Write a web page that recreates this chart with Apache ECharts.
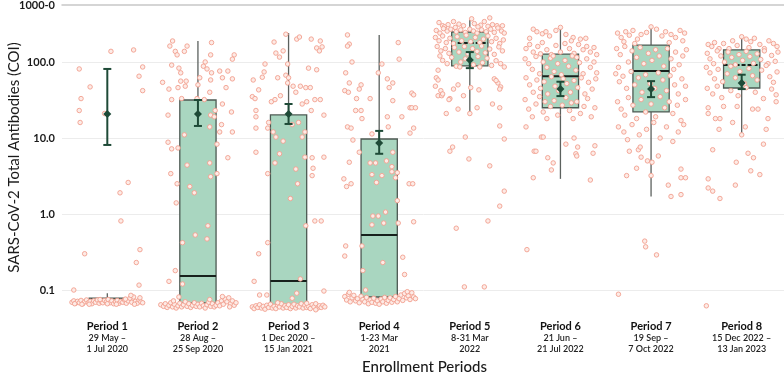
<!DOCTYPE html>
<html>
<head>
<meta charset="utf-8">
<script src="https://cdn.jsdelivr.net/npm/echarts@6/dist/echarts.min.js"></script>
<style>
  html, body { margin: 0; padding: 0; background: #fff; }
  #chart { width: 784px; height: 376px; }
</style>
</head>
<body>
<div id="chart"></div>
<script>
// periods and enrollment dates
const periods = ['Period 1', 'Period 2', 'Period 3', 'Period 4', 'Period 5', 'Period 6', 'Period 7', 'Period 8'];
const dateLines = [
  ['29 May –', '1 Jul 2020'],
  ['28 Aug –', '25 Sep 2020'],
  ['1 Dec 2020 –', '15 Jan 2021'],
  ['1-23 Mar', '2021'],
  ['8-31 Mar', '2022'],
  ['21 Jun –', '21 Jul 2022'],
  ['19 Sep –', '7 Oct 2022'],
  ['15 Dec 2022 –', '13 Jan 2023']
];

// box stats (COI)
const whiskerLow = [0.066, 0.062, 0.06, 0.068, 21, 2.9, 1.7, 10.6];
const q1 = [0.069, 0.0675, 0.062, 0.081, 89, 25, 22, 45.5];
const median = [0.072, 0.153, 0.131, 0.53, 178, 65, 76, 91];
const q3 = [0.078, 31.6, 20.1, 9.7, 248, 127, 167, 144];
const whiskerHigh = [0.091, 189, 240, 226, 357, 289, 289, 220];

// mean with 95% CI
const mean = [20.7, 20.7, 20.7, 8.6, 106, 44, 44, 53];
const meanLow = [8.1, 14.4, 15.3, 6.2, 83, 35.6, 34.5, 44];
const meanHigh = [81, 31.6, 28, 12.4, 135, 55, 56, 68];

// individual results: [jitter offset, COI]
const pts1 = [
  [0.04,138],[0.29,144],[-0.31,81],[0.39,86],[-0.19,47],[0.35,65],[-0.29,33],[0.39,42],[-0.31,23],[-0.03,21],[-0.30,16],
  [0.23,2.6],[0.14,1.9],[0.15,0.81],[-0.25,0.30],[0.36,0.34],[0.32,0.23],[0.35,0.116],[-0.37,0.10],
  [-0.39,0.069],[-0.37,0.072],[-0.35,0.067],[-0.33,0.071],[-0.31,0.068],[-0.29,0.073],[-0.27,0.066],[-0.25,0.070],[-0.23,0.074],
  [-0.21,0.068],[-0.19,0.071],[-0.17,0.066],[-0.15,0.072],[-0.13,0.069],[-0.11,0.074],[-0.09,0.067],[-0.07,0.071],[-0.05,0.068],
  [-0.03,0.073],[-0.01,0.070],[0.01,0.075],[0.03,0.068],[0.05,0.072],[0.07,0.066],[0.09,0.070],[0.11,0.073],[0.13,0.067],
  [0.15,0.071],[0.17,0.069],[0.19,0.074],[0.21,0.067],[0.23,0.072],[0.25,0.078],[0.27,0.069],[0.29,0.081],[0.31,0.071],
  [0.33,0.067],[0.35,0.074],[0.37,0.070],[0.39,0.068],[0.26,0.085],[-0.36,0.066],[-0.20,0.065],[0.10,0.065],[0.30,0.065],
  [0.20,0.076],[-0.08,0.075],[0.36,0.079],[-0.28,0.065],[0.00,0.066]
];
const pts2 = [
  [-0.28,189],[-0.31,162],[-0.12,162],[0.15,180],[-0.25,138],[-0.23,124],[-0.15,138],[0.14,124],[0.40,124],[0.38,109],
  [0.08,100],[-0.29,91],[-0.21,83],[0.06,88],[0.10,81],[-0.19,72],[0.15,72],[0.24,76],[0.33,76],[-0.39,54],[-0.19,56],
  [-0.13,56],[0.02,62],[0.14,58],[0.27,62],[0.38,60],[-0.32,44],[-0.22,46],[-0.14,48],[0.0,50],[0.13,40],[0.31,46],
  [-0.29,32],[-0.18,33],[-0.01,33],[0.07,32],[0.27,28],[0.19,23],[-0.33,20],[0.14,20],[0.37,22],[0.18,19],[0.26,15],
  [0.13,14],[0.38,12],[0.24,12],[-0.15,11],[-0.33,8.8],[-0.29,7.2],[-0.22,7.4],[0.21,8.3],[0.33,5.5],[0.13,4.7],[-0.12,4.4],
  [0.14,3.1],[0.21,3.4],[-0.30,3.4],[-0.23,2.5],[-0.09,2.3],[-0.04,1.9],[-0.24,1.4],[0.11,0.70],[-0.03,0.53],[0.10,0.47],
  [-0.17,0.42],[-0.25,0.18],[-0.32,0.13],[-0.17,0.12],[-0.21,0.081],
  [-0.41,0.064],[-0.38,0.061],[-0.36,0.066],[-0.34,0.059],[-0.32,0.063],[-0.3,0.068],[-0.28,0.06],[-0.26,0.065],[-0.24,0.058],
  [-0.22,0.062],[-0.2,0.067],[-0.18,0.06],[-0.16,0.064],[-0.14,0.07],[-0.12,0.061],[-0.1,0.066],[-0.08,0.059],[-0.06,0.063],
  [-0.04,0.068],[-0.02,0.061],[0.0,0.065],[0.02,0.06],[0.04,0.067],[0.06,0.062],[0.08,0.058],[0.1,0.064],[0.12,0.069],
  [0.14,0.061],[0.16,0.066],[0.18,0.06],[0.2,0.063],[0.22,0.068],[0.24,0.062],[0.26,0.072],[0.28,0.065],[0.3,0.076],
  [0.32,0.07],[0.34,0.079],[0.36,0.066],[0.38,0.072],[0.4,0.063],[0.42,0.068],[0.27,0.082],[0.13,0.075],[-0.27,0.072],[0.35,0.06]
];
const pts3 = [
  [-0.03,232],[-0.16,183],[0.09,200],[0.12,213],[0.25,200],[0.35,189],[0.37,158],[0.31,153],[0.34,140],[-0.14,131],
  [-0.10,116],[-0.06,140],[-0.26,94],[-0.01,94],[0.22,83],[0.31,79],[-0.27,74],[-0.29,63],[-0.39,58],[-0.12,62],[-0.03,67],
  [0.00,62],[-0.01,53],[-0.33,43],[0.05,48],[0.13,48],[0.19,46],[0.24,46],[-0.40,35],[-0.37,33],[-0.19,30],[-0.15,32],
  [-0.09,36],[0.08,40],[0.15,28],[0.20,30],[0.29,32],[0.35,32],[-0.36,23],[-0.36,19],[0.25,23],[0.39,20],[-0.36,13.5],
  [-0.22,16],[-0.23,13.5],[-0.17,12],[0.04,15],[0.11,16],[0.18,12],[-0.14,10.3],[-0.06,9.1],[0.15,10.3],[-0.36,6.5],
  [-0.10,6.2],[0.18,5.6],[0.26,5.5],[0.39,5.6],[-0.15,4.7],[0.08,3.9],[0.27,4.0],[-0.23,3.4],[0.26,3.2],[0.10,2.5],
  [0.02,1.6],[0.29,0.81],[0.36,0.81],[0.19,0.70],[-0.23,0.42],[-0.33,0.30],[0.13,0.14],[-0.38,0.13],[0.39,0.097],
  [0.09,0.091],[-0.32,0.086],[-0.24,0.086],[0.04,0.078],
  [-0.4,0.06],[-0.38,0.057],[-0.36,0.062],[-0.34,0.059],[-0.32,0.064],[-0.3,0.058],[-0.28,0.061],[-0.26,0.056],[-0.24,0.063],
  [-0.22,0.059],[-0.2,0.065],[-0.18,0.058],[-0.16,0.061],[-0.14,0.057],[-0.12,0.063],[-0.1,0.06],[-0.08,0.066],[-0.06,0.058],
  [-0.04,0.062],[-0.02,0.059],[0.0,0.064],[0.02,0.057],[0.04,0.061],[0.06,0.065],[0.08,0.058],[0.1,0.062],[0.12,0.06],
  [0.14,0.066],[0.16,0.058],[0.18,0.063],[0.2,0.059],[0.22,0.061],[0.24,0.057],[0.26,0.064],[0.28,0.06],[0.3,0.066],
  [0.32,0.058],[0.34,0.062],[0.36,0.059],[0.38,0.063],[0.4,0.06],[0.3,0.055],[-0.12,0.068],[0.2,0.067]
];
const pts4 = [
  [-0.35,227],[-0.33,172],[-0.35,162],[0.21,180],[0.22,109],[-0.30,100],[0.03,94],[-0.01,72],[-0.37,72],[0.09,60],[0.15,53],
  [-0.33,53],[-0.20,50],[-0.22,44],[0.11,46],[0.36,39],[0.38,37],[-0.38,42],[-0.34,40],[-0.10,33],[-0.25,33],[0.15,31],
  [-0.20,23],[-0.26,23],[-0.19,18],[0.09,19],[0.25,19],[0.34,25],[0.36,25],[0.40,25],[-0.35,14],[-0.31,13.5],[0.10,14],
  [0.38,13.5],[0.34,11.6],[-0.08,11.3],[-0.29,9.4],[0.15,6.5],[-0.22,6.5],[-0.33,4.8],[-0.10,4.7],[-0.04,4.7],[0.08,5.0],
  [0.14,4.2],[0.20,3.5],[-0.08,3.3],[0.03,3.2],[0.14,3.6],[0.18,3.0],[-0.39,2.9],[-0.31,2.5],[-0.36,2.3],[-0.03,2.6],
  [0.33,2.5],[0.37,2.5],[0.20,1.5],[0.07,1.06],[-0.07,0.94],[-0.01,0.94],[0.05,0.76],[-0.08,0.72],[0.21,0.76],[0.38,0.79],
  [-0.37,0.38],[-0.38,0.28],[-0.19,0.38],[-0.18,0.18],[0.04,0.23],[0.26,0.27],[0.28,0.16],[-0.15,0.10],
  [-0.38,0.082],[-0.36,0.074],[-0.34,0.088],[-0.32,0.07],[-0.3,0.079],[-0.28,0.085],[-0.26,0.072],[-0.24,0.077],[-0.22,0.068],
  [-0.2,0.083],[-0.18,0.075],[-0.16,0.07],[-0.14,0.08],[-0.12,0.066],[-0.1,0.074],[-0.08,0.069],[-0.06,0.078],[-0.04,0.067],
  [-0.02,0.072],[0.0,0.065],[0.02,0.076],[0.04,0.07],[0.06,0.08],[0.08,0.067],[0.1,0.073],[0.12,0.079],[0.14,0.069],
  [0.16,0.075],[0.18,0.082],[0.2,0.07],[0.22,0.077],[0.24,0.086],[0.26,0.073],[0.28,0.09],[0.3,0.079],[0.32,0.084],
  [0.34,0.075],[0.36,0.092],[0.38,0.081],[0.4,0.077],[0.31,0.095],[-0.33,0.093]
];
const pts5 = [
  [-0.34,330],[-0.3,300],[-0.24,310],[-0.18,340],[-0.12,315],[-0.07,300],[0.02,370],[0.05,320],[0.12,305],[0.16,340],
  [0.22,380],[0.25,310],[0.3,300],[0.36,300],[-0.28,290],[-0.16,285],[0.09,290],[0.2,295],
  [-0.37,260],[-0.33,240],[-0.29,275],[-0.25,255],[-0.21,270],[-0.15,250],[-0.1,265],[-0.05,245],[0.0,270],[0.04,255],
  [0.08,240],[0.13,265],[0.18,250],[0.23,270],[0.27,245],[0.31,280],[0.35,255],[0.38,240],
  [-0.38,210],[-0.34,190],[-0.3,220],[-0.26,180],[-0.22,205],[-0.18,175],[-0.14,215],[-0.09,190],[-0.04,225],[0.01,185],
  [0.06,210],[0.11,180],[0.15,200],[0.2,220],[0.24,185],[0.29,205],[0.33,175],[0.37,195],
  [-0.36,160],[-0.32,140],[-0.27,150],[-0.23,130],[-0.17,155],[-0.12,135],[-0.06,160],[-0.02,128],[0.03,150],[0.08,138],
  [0.13,162],[0.17,132],[0.22,148],[0.27,126],[0.32,158],[0.36,140],
  [-0.33,120],[-0.3,105],[-0.25,95],[-0.2,115],[-0.15,88],[-0.1,100],[-0.05,110],[0.04,92],[0.09,118],[0.14,98],
  [0.19,112],[0.24,90],[0.29,104],[0.34,95],[0.38,86],[-0.11,86],[0.11,86],
  [-0.35,78],[-0.37,62],[-0.35,58],[-0.38,48],[-0.32,42],[-0.35,36],[-0.31,36],[-0.30,38],[-0.22,33],[-0.18,44],[-0.13,50],
  [-0.07,36],[0.01,46],[0.10,43],[0.27,60],[0.31,53],[0.34,47],[0.33,44],[0.29,57],[-0.26,21],[-0.13,24],[0.08,25],
  [0.25,28],[0.33,25],[0.00,21],[-0.23,32],[0.33,14.4],[-0.05,10.3],[0.38,9.7],[-0.19,7.6],[-0.22,6.7],[-0.01,5.3],
  [0.22,4.3],[0.38,2.0],[0.33,1.27],[0.20,0.81],[-0.15,0.65],[-0.06,0.11],[0.16,0.11]
];
const pts6 = [
  [-0.3,270],[-0.26,250],[-0.2,235],[-0.12,220],[-0.05,260],[0.06,230],[0.14,210],[0.22,200],[0.28,205],[-0.34,205],[0.0,285],[-0.16,250],
  [-0.38,150],[-0.34,170],[-0.3,135],[-0.25,160],[-0.2,180],[-0.15,145],[-0.1,125],[-0.05,165],[0.0,135],[0.05,175],
  [0.1,150],[0.15,130],[0.2,170],[0.25,145],[0.29,160],[0.33,135],[0.37,155],[0.4,125],[-0.22,128],[0.12,190],
  [-0.39,110],[-0.35,95],[-0.31,80],[-0.27,118],[-0.23,70],[-0.19,100],[-0.15,85],[-0.11,112],[-0.07,75],[-0.03,95],
  [0.01,68],[0.05,105],[0.09,88],[0.13,120],[0.17,78],[0.21,98],[0.25,70],[0.29,110],[0.33,85],[0.37,100],[0.4,72],[-0.08,120],[0.18,115],
  [-0.38,62],[-0.34,50],[-0.3,40],[-0.26,58],[-0.22,45],[-0.18,55],[-0.14,38],[-0.1,64],[-0.06,48],[-0.02,42],
  [0.03,60],[0.07,52],[0.11,40],[0.15,57],[0.19,46],[0.23,62],[0.27,38],[0.31,54],[0.35,44],[0.39,60],
  [-0.39,32],[-0.35,24],[-0.31,19],[-0.27,28],[-0.23,35],[-0.19,22],[-0.15,18],[-0.11,26],[-0.07,31],[-0.03,20],
  [0.02,27],[0.06,34],[0.1,23],[0.14,18],[0.18,30],[0.22,21],[0.26,26],[0.3,33],[0.34,19],[0.38,25],[-0.17,30],[0.12,29],
  [-0.38,14],[-0.21,10.3],[-0.19,10.3],[0.06,8.3],[0.15,10],[0.38,7.9],[0.19,7.6],[-0.29,6.7],[-0.27,6.7],[-0.14,5.5],
  [0.17,6.2],[0.18,5.8],[0.36,6.3],[-0.08,4.7],[-0.10,3.8],[-0.30,3.0],[0.33,2.8],[-0.37,0.34]
];
const pts7 = [
  [-0.37,240],[-0.33,210],[-0.28,250],[-0.24,225],[-0.2,260],[-0.15,200],[-0.11,230],[-0.05,245],[0.0,290],[0.06,270],
  [0.12,220],[0.16,250],[0.22,230],[0.27,210],[0.32,260],[0.37,240],[-0.3,185],[-0.18,175],[0.2,180],[0.35,190],
  [-0.38,150],[-0.34,125],[-0.29,160],[-0.25,100],[-0.21,140],[-0.16,115],[-0.12,155],[-0.08,95],[-0.03,130],[0.01,105],
  [0.05,145],[0.09,120],[0.14,88],[0.18,150],[0.22,110],[0.27,135],[0.31,92],[0.35,120],[0.39,145],[-0.36,85],[0.25,80],
  [-0.39,70],[-0.35,55],[-0.31,65],[-0.27,45],[-0.22,75],[-0.18,50],[-0.14,62],[-0.1,40],[-0.06,68],[-0.01,52],
  [0.04,45],[0.08,72],[0.13,58],[0.17,42],[0.21,66],[0.26,50],[0.3,38],[0.34,60],[0.38,48],
  [-0.37,30],[-0.33,24],[-0.29,20],[-0.25,34],[-0.2,27],[-0.16,18],[-0.11,32],[-0.06,22],[0.0,28],[0.05,19],
  [0.1,35],[0.15,25],[0.2,30],[0.24,21],[0.29,27],[0.33,17],[0.38,32],
  [-0.36,14],[-0.3,12],[-0.26,9.5],[-0.21,15],[-0.13,11],[-0.05,13],[0.03,16],[0.1,10],[0.17,14],[0.24,9],[0.3,12],[0.36,15],
  [-0.24,6.7],[-0.14,7.0],[-0.12,7.6],[-0.04,5.0],[0.01,4.8],[0.08,5.8],[-0.11,5.6],[-0.16,4.0],[-0.27,3.2],[0.00,3.2],
  [0.33,3.9],[0.33,3.0],[0.38,3.0],[0.19,2.4],[0.22,1.7],[0.33,1.8],[-0.07,0.44],[-0.06,0.37],[0.06,0.29],[-0.36,0.088]
];
const pts8 = [
  [-0.37,170],[-0.33,160],[-0.3,180],[-0.2,175],[-0.1,190],[-0.05,165],[0.0,215],[0.05,200],[0.1,185],[0.14,205],
  [0.2,170],[0.25,150],[0.3,190],[0.35,175],[0.39,160],[-0.25,150],[0.08,155],[-0.14,150],
  [-0.38,130],[-0.35,110],[-0.31,95],[-0.27,140],[-0.23,120],[-0.19,100],[-0.15,135],[-0.11,115],[-0.07,92],[-0.03,125],
  [0.01,105],[0.05,138],[0.09,118],[0.13,96],[0.17,128],[0.21,108],[0.25,140],[0.29,95],[0.33,122],[0.37,102],[0.4,135],
  [-0.39,85],[-0.35,72],[-0.3,60],[-0.26,80],[-0.21,55],[-0.16,70],[-0.12,88],[-0.07,62],[-0.02,75],[0.03,52],
  [0.08,82],[0.12,66],[0.17,58],[0.22,78],[0.27,90],[0.31,64],[0.35,54],[0.39,74],
  [-0.38,45],[-0.32,38],[-0.27,48],[-0.22,34],[-0.12,42],[-0.04,36],[0.05,46],[0.15,40],[0.24,33],[0.33,44],[0.38,37],
  [-0.24,18],[-0.20,26],[-0.05,26],[0.27,13],[0.29,18],[0.18,24],[0.04,14],[0.00,11],[-0.10,16],[-0.29,18],[-0.25,13],
  [-0.37,21],[-0.37,25],[0.12,24],[0.38,30],[-0.32,7.0],[-0.37,2.9],[-0.37,2.2],[-0.32,2.0],[-0.24,1.6],[-0.07,2.4],
  [-0.06,4.8],[0.10,3.7],[0.20,3.3],[0.13,5.5],[0.07,6.3],[0.24,8.3],[-0.39,0.062]
];
const points = [pts1, pts2, pts3, pts4, pts5, pts6, pts7, pts8];

// periods whose median is drawn dashed
const dashedMedian = [5, 8];

const boxData = periods.map((p, i) => [i + 1, whiskerLow[i], q1[i], median[i], q3[i], whiskerHigh[i]]);
const meanData = periods.map((p, i) => [i + 1, mean[i], meanLow[i], meanHigh[i]]);
const scatterData = [];
points.forEach((pts, i) => {
  pts.forEach((d) => scatterData.push([i + 1 + d[0], d[1]]));
});

var myChart = echarts.init(document.getElementById('chart'));

const font = 'Lato, "Noto Sans", sans-serif';

myChart.setOption({
  animation: false,
  textStyle: { fontFamily: font },
  grid: { left: 62, right: -3, top: 5, bottom: 66, outerBoundsMode: 'none', containLabel: false },
  xAxis: [
    {
      type: 'category',
      data: periods,
      position: 'bottom',
      axisLine: { show: false },
      axisTick: { show: false },
      name: 'Enrollment Periods',
      nameLocation: 'middle',
      nameGap: 50,
      nameTextStyle: { fontSize: 15, fontWeight: 500, color: '#1a1a1a', fontFamily: font },
      axisLabel: {
        interval: 0,
        margin: 9,
        formatter: function (value, idx) {
          return '{p|' + value + '}\n{d|' + dateLines[idx][0] + '}\n{d|' + dateLines[idx][1] + '}';
        },
        rich: {
          p: { fontSize: 11, fontWeight: 'bold', color: '#111', lineHeight: 14, fontFamily: font },
          d: { fontSize: 9, fontWeight: 600, color: '#222', lineHeight: 10.5, fontFamily: font }
        }
      }
    },
    {
      type: 'value',
      min: 0.5,
      max: 8.5,
      position: 'top',
      axisLine: { show: true, lineStyle: { color: '#c8c8c8', width: 1.5 } },
      axisTick: { show: false },
      axisLabel: { show: false },
      splitLine: { show: false }
    }
  ],
  yAxis: {
    type: 'log',
    logBase: 10,
    min: 0.0546,
    max: 562,
    name: 'SARS-CoV-2 Total Antibodies (COI)',
    nameLocation: 'middle',
    nameGap: 40,
    nameMoveOverlap: false,
    nameTextStyle: { fontSize: 15, color: '#1a1a1a', fontFamily: font },
    axisLine: { show: false },
    axisTick: { show: false },
    axisLabel: {
      showMinLabel: false,
      fontSize: 11,
      fontWeight: 'bold',
      color: '#1a1a1a',
      margin: 7,
      formatter: function (v) {
        if (v > 500) return '1000-0';
        if (v < 0.09) return '';
        return v.toFixed(1);
      }
    },
    splitLine: { show: true, showMinLine: false, showMaxLine: false, lineStyle: { color: '#ececec', width: 1 } }
  },
  series: [
    {
      type: 'custom',
      xAxisIndex: 1,
      data: boxData,
      encode: { x: 0, y: [1, 2, 3, 4, 5] },
      renderItem: function (params, api) {
        const x = api.value(0);
        const lo = api.coord([x, api.value(1)]);
        const b1 = api.coord([x - 0.2, api.value(2)]);
        const med = api.coord([x - 0.2, api.value(3)]);
        const b3 = api.coord([x + 0.2, api.value(4)]);
        const hi = api.coord([x, api.value(5)]);
        const dashed = dashedMedian.indexOf(x) >= 0;
        return {
          type: 'group',
          children: [
            { type: 'line', shape: { x1: hi[0], y1: hi[1], x2: hi[0], y2: b3[1] }, style: { stroke: '#5c615e', lineWidth: 1.3 } },
            { type: 'line', shape: { x1: lo[0], y1: b1[1], x2: lo[0], y2: lo[1] }, style: { stroke: '#5c615e', lineWidth: 1.3 } },
            { type: 'rect', shape: { x: b1[0], y: b3[1], width: b3[0] - b1[0], height: b1[1] - b3[1] },
              style: { fill: '#a9d6c0', stroke: '#4d5a53', lineWidth: 1.3 } },
            { type: 'line', shape: { x1: med[0], y1: med[1], x2: b3[0], y2: med[1] },
              style: { stroke: '#17211c', lineWidth: 2, lineDash: dashed ? [4, 2] : null } }
          ]
        };
      },
      z: 2
    },
    {
      type: 'scatter',
      xAxisIndex: 1,
      data: scatterData,
      symbol: 'circle',
      symbolSize: 4.5,
      itemStyle: { color: '#fdebe6', borderColor: '#f29f8e', borderWidth: 0.9, opacity: 1 },
      z: 3
    },
    {
      type: 'custom',
      xAxisIndex: 1,
      data: meanData,
      encode: { x: 0, y: [1, 2, 3] },
      renderItem: function (params, api) {
        const x = api.value(0);
        const m = api.coord([x, api.value(1)]);
        const l = api.coord([x, api.value(2)]);
        const h = api.coord([x, api.value(3)]);
        const c = '#1e4a37';
        return {
          type: 'group',
          children: [
            { type: 'line', shape: { x1: m[0], y1: l[1], x2: m[0], y2: h[1] }, style: { stroke: c, lineWidth: 2 } },
            { type: 'line', shape: { x1: m[0] - 4, y1: l[1], x2: m[0] + 4, y2: l[1] }, style: { stroke: c, lineWidth: 2 } },
            { type: 'line', shape: { x1: m[0] - 4, y1: h[1], x2: m[0] + 4, y2: h[1] }, style: { stroke: c, lineWidth: 2 } },
            { type: 'polygon', shape: { points: [[m[0], m[1] - 4], [m[0] + 4, m[1]], [m[0], m[1] + 4], [m[0] - 4, m[1]]] },
              style: { fill: c } }
          ]
        };
      },
      z: 4
    }
  ]
});
</script>
</body>
</html>
